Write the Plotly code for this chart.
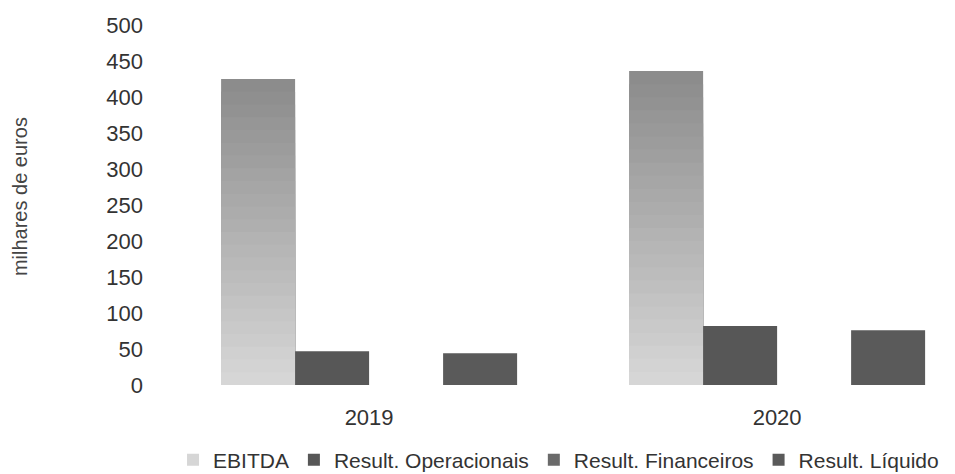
import plotly.graph_objects as go

categories = ["2019", "2020"]
series_names = ["EBITDA", "Result. Operacionais", "Result. Financeiros", "Result. Líquido"]
ebitda = [425, 436]
operacionais = [47, 82]
financeiros = [0, 0]
liquido = [44, 76]

FONT = "Liberation Sans, Arial, sans-serif"
fig = go.Figure()

# EBITDA bar with vertical grey gradient (dark top -> light bottom), built by overlaying
# progressively shorter and lighter copies of the same bar in one offset group
steps = 24
top_c, bot_c = (0x8c, 0x8c, 0x8c), (0xd6, 0xd6, 0xd6)
for i in range(steps):
    f = 1 - i / steps
    t = i / (steps - 1)
    c = tuple(round(top_c[k] + (bot_c[k] - top_c[k]) * t) for k in range(3))
    fig.add_trace(go.Bar(
        x=categories, y=[v * f for v in ebitda],
        name=series_names[0], offsetgroup="e", legendgroup="e",
        showlegend=(i == steps - 1),
        marker=dict(color="rgb(%d,%d,%d)" % c, line=dict(width=0)),
        hoverinfo="skip" if i else None,
    ))

fig.add_trace(go.Bar(x=categories, y=operacionais, name=series_names[1], offsetgroup="o",
                     marker=dict(color="#575757", line=dict(width=0))))
fig.add_trace(go.Bar(x=categories, y=financeiros, name=series_names[2], offsetgroup="f",
                     marker=dict(color="#6a6a6a", line=dict(width=0))))
fig.add_trace(go.Bar(x=categories, y=liquido, name=series_names[3], offsetgroup="l",
                     marker=dict(color="#5a5a5a", line=dict(width=0))))

fig.update_layout(
    width=955, height=474,
    margin=dict(l=150, r=0, t=25, b=89, autoexpand=False),
    paper_bgcolor="white", plot_bgcolor="white",
    barmode="group", bargap=0.2745, bargroupgap=0,
    font=dict(family=FONT, size=22, color="#333333"),
    showlegend=True,
    legend=dict(orientation="h", x=0.5075, xanchor="center",
                yref="container", y=1 - 460 / 474, yanchor="middle",
                bgcolor="rgba(0,0,0,0)",
                font=dict(size=21, color="#333333"), traceorder="normal",
                itemclick=False, itemdoubleclick=False),
    xaxis=dict(type="category", range=[-0.537, 1.436], showgrid=False, zeroline=False,
               showline=False, ticks="", ticklabelstandoff=17,
               tickfont=dict(size=22, color="#333333")),
    yaxis=dict(range=[0, 500], tickmode="array", tickvals=list(range(0, 501, 50)),
               showgrid=False, zeroline=False, showline=False, ticks="",
               ticklabelstandoff=6, tickfont=dict(size=22, color="#333333")),
    annotations=[dict(text="milhares de euros", textangle=-90, xref="paper", yref="paper",
                      x=(20 - 150) / 805, y=0.522, xanchor="center", yanchor="middle",
                      showarrow=False, font=dict(size=20, color="#444444"))],
)

fig.write_html("out.html")
